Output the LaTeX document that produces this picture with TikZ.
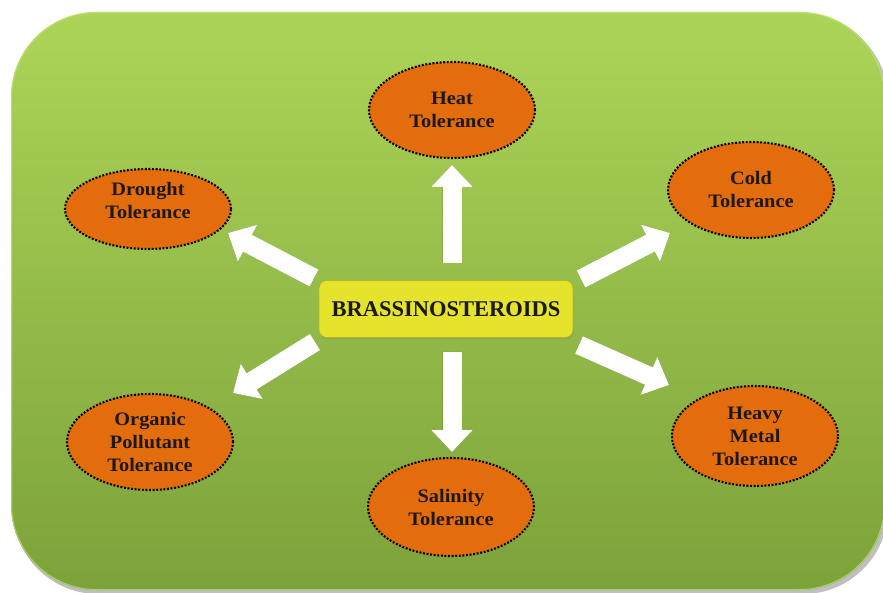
\documentclass[tikz,border=0pt]{standalone}
\usepackage{fontspec}
\setmainfont{Liberation Serif}
\newfontfamily\tolfont[FakeStretch=1.07]{Liberation Serif}
\usetikzlibrary{arrows.meta,shapes.geometric,shadows}
\definecolor{bgtop}{RGB}{172,213,88}
\definecolor{bgbot}{RGB}{124,162,58}
\definecolor{bgedge}{RGB}{196,228,130}
\definecolor{tolfill}{RGB}{227,108,12}
\definecolor{corefill}{RGB}{230,227,44}
\definecolor{coreline}{RGB}{188,180,30}
\definecolor{inktext}{RGB}{28,24,20}
\begin{document}
\begin{tikzpicture}[x=1pt,y=-1pt,
  tol/.style={ellipse, fill=tolfill, draw=black, line width=2.1pt,
    dash pattern=on 1.9pt off 1.7pt, inner sep=0pt, align=center,
    minimum width=166pt, minimum height=96pt, text=inktext,
    font=\tolfont\bfseries\fontsize{19}{23}\selectfont},
  tollabel/.style={inner sep=0pt, align=center, text=inktext,
    font=\tolfont\bfseries\fontsize{19}{23}\selectfont},
  core/.style={rounded corners=8pt, fill=corefill, draw=coreline, line width=0.6pt,
    minimum width=254pt, minimum height=57pt, text=inktext,
    font=\bfseries\fontsize{22.5}{26}\selectfont,
    drop shadow={shadow xshift=1pt, shadow yshift=-2pt, opacity=0.3}},
  blockarrow/.style={draw=white, line width=19pt, -{Triangle[width=40pt,length=22pt]}},
  arrowshade/.style={draw=black, line width=19pt, -{Triangle[width=40pt,length=22pt]}}
]
\useasboundingbox (0,0) rectangle (883,593);
\fill[white] (0,0) rectangle (883,593);

% green panel with a soft edge shadow
\fill[black, opacity=0.25, rounded corners=85pt] (13,15) rectangle (888,594);
\shade[top color=bgtop, bottom color=bgbot, rounded corners=85pt]
  (11,12) rectangle (885,590);
\draw[bgedge, opacity=0.7, line width=1pt, rounded corners=85pt]
  (11.5,12.5) rectangle (884.5,589.5);

% central hormone box
\node[core] (br) at (446,309) {BRASSINOSTEROIDS};

% stress tolerance ellipses
\node[tol] (heat) at (452,110) {Heat\\Tolerance};
\node[tol, minimum height=80pt] (drought) at (148,209) {};
\node[tollabel] (droughtlabel) at (148,201) {Drought\\Tolerance};
\node[tol] (cold) at (751,190) {Cold\\Tolerance};
\node[tol] (organic) at (150,442) {Organic\\Pollutant\\Tolerance};
\node[tol, minimum height=98pt] (salinity) at (451,507) {Salinity\\Tolerance};
\node[tol, minimum height=100pt] (metal) at (755,436) {Heavy\\Metal\\Tolerance};

% arrow tails and heads
\coordinate (uT) at (452,263);  \coordinate (uH) at (452,165);
\coordinate (dT) at (452,352);  \coordinate (dH) at (452,452);
\coordinate (ulT) at (314,278); \coordinate (ulH) at (228,233);
\coordinate (llT) at (315,342); \coordinate (llH) at (233,393);
\coordinate (urT) at (581,279); \coordinate (urH) at (670,233);
\coordinate (lrT) at (579,345); \coordinate (lrH) at (669,385);

% shadows under the block arrows
\begin{scope}[transparency group, opacity=0.28, shift={(2,3)}]
  \draw[arrowshade] (uT) -- (uH);
  \draw[arrowshade] (dT) -- (dH);
  \draw[arrowshade] (ulT) -- (ulH);
  \draw[arrowshade] (llT) -- (llH);
  \draw[arrowshade] (urT) -- (urH);
  \draw[arrowshade] (lrT) -- (lrH);
\end{scope}

% block arrows
\draw[blockarrow] (uT) -- (uH);
\draw[blockarrow] (dT) -- (dH);
\draw[blockarrow] (ulT) -- (ulH);
\draw[blockarrow] (llT) -- (llH);
\draw[blockarrow] (urT) -- (urH);
\draw[blockarrow] (lrT) -- (lrH);
\end{tikzpicture}
\end{document}
